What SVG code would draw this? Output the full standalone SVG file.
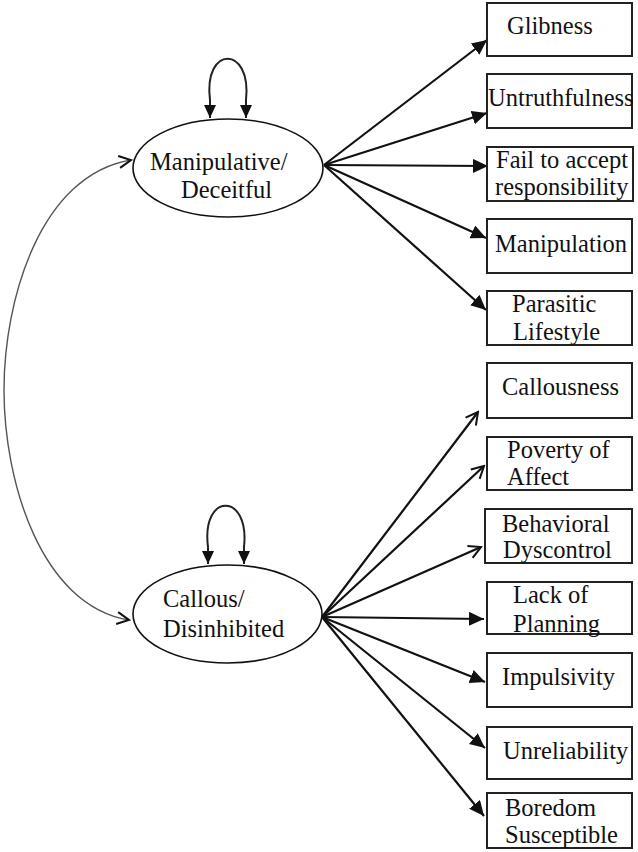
<svg xmlns="http://www.w3.org/2000/svg" width="638" height="852" viewBox="0 0 638 852">
<style>
.t{font-family:"Liberation Serif","Times New Roman",serif;font-size:24.5px;fill:#111}
.box{fill:#fff;stroke:#222;stroke-width:2}
.ell{fill:#fff;stroke:#111;stroke-width:1.6}
.arr{stroke:#111;stroke-width:2.2;fill:none}
.loop{stroke:#222;stroke-width:2;fill:none}
.cov{stroke:#555;stroke-width:1.4;fill:none}
</style>
<defs>
<marker id="fh" markerUnits="userSpaceOnUse" markerWidth="16" markerHeight="14" viewBox="0 0 16 14" refX="15" refY="7" orient="auto">
<path d="M0,0 L15,7 L0,14 Z" fill="#111"/>
</marker>
<marker id="oh" markerUnits="userSpaceOnUse" markerWidth="16" markerHeight="16" viewBox="0 0 16 16" refX="14" refY="8" orient="auto">
<path d="M2,1.5 L14,8 L2,14.5" fill="none" stroke="#111" stroke-width="2"/>
</marker>
<marker id="oc" markerUnits="userSpaceOnUse" markerWidth="16" markerHeight="16" viewBox="0 0 16 16" refX="14" refY="8" orient="auto">
<path d="M2,2 L14,8 L2,14" fill="none" stroke="#111" stroke-width="2"/>
</marker>
<marker id="lh" markerUnits="userSpaceOnUse" markerWidth="14" markerHeight="14" viewBox="0 0 14 14" refX="13" refY="7" orient="auto">
<path d="M0,1 L13,7 L0,13 Z" fill="#111"/>
</marker>
</defs>

<g id="connectors">
<path class="cov" d="M4,390 C4,300 40,175 131,160" marker-end="url(#oc)"/>
<path class="cov" d="M4,390 C4,480 40,605 129,620" marker-end="url(#oc)"/>
<path class="loop" d="M210,100 C203,45 252,45 246,100" />
<line class="loop" x1="210" y1="99" x2="210" y2="118" marker-end="url(#lh)"/>
<line class="loop" x1="246" y1="99" x2="246" y2="118" marker-end="url(#lh)"/>
<path class="loop" d="M208,547 C201,492 250,492 244,547" />
<line class="loop" x1="208" y1="546" x2="208" y2="564" marker-end="url(#lh)"/>
<line class="loop" x1="244" y1="546" x2="244" y2="564" marker-end="url(#lh)"/>

<line class="arr" x1="324" y1="165" x2="487" y2="40" marker-end="url(#fh)"/>
<line class="arr" x1="324" y1="165" x2="487" y2="113" marker-end="url(#fh)"/>
<line class="arr" x1="324" y1="165" x2="488" y2="166" marker-end="url(#fh)"/>
<line class="arr" x1="324" y1="165" x2="486" y2="238" marker-end="url(#fh)"/>
<line class="arr" x1="324" y1="165" x2="486" y2="310" marker-end="url(#fh)"/>

<line class="arr" x1="322" y1="617" x2="478" y2="412" marker-end="url(#oh)"/>
<line class="arr" x1="322" y1="617" x2="484" y2="466" marker-end="url(#oh)"/>
<line class="arr" x1="322" y1="617" x2="481" y2="547" marker-end="url(#oh)"/>
<line class="arr" x1="322" y1="617" x2="484" y2="619" marker-end="url(#fh)"/>
<line class="arr" x1="322" y1="617" x2="485" y2="682" marker-end="url(#fh)"/>
<line class="arr" x1="322" y1="617" x2="485" y2="748" marker-end="url(#fh)"/>
<line class="arr" x1="322" y1="617" x2="484" y2="816" marker-end="url(#fh)"/>
</g>

<g id="manipulative">
<ellipse class="ell" cx="228" cy="168" rx="95" ry="49"/>
<text class="t" x="150" y="170">Manipulative/</text>
<text class="t" x="181" y="198">Deceitful</text>
</g>
<g id="callous">
<ellipse class="ell" cx="227.5" cy="614" rx="94.5" ry="49"/>
<text class="t" x="163" y="607">Callous/</text>
<text class="t" x="163" y="637">Disinhibited</text>
</g>

<g id="glibness"><rect class="box" x="487" y="3" width="145" height="53"/><text class="t" x="507" y="34">Glibness</text></g>
<g id="untruthfulness"><rect class="box" x="487" y="74" width="145" height="54"/><text class="t" x="488" y="106">Untruthfulness</text></g>
<g id="fail"><rect class="box" x="487" y="147" width="146" height="54"/><text class="t" x="496" y="168">Fail to accept</text><text class="t" x="495" y="195">responsibility</text></g>
<g id="manipulation"><rect class="box" x="487" y="219" width="145" height="54"/><text class="t" x="495" y="252">Manipulation</text></g>
<g id="parasitic"><rect class="box" x="487" y="291" width="145" height="54"/><text class="t" x="512" y="312">Parasitic</text><text class="t" x="513" y="340">Lifestyle</text></g>

<g id="callousness"><rect class="box" x="487" y="363" width="145" height="55"/><text class="t" x="502" y="395">Callousness</text></g>
<g id="poverty"><rect class="box" x="487" y="437" width="145" height="53"/><text class="t" x="507" y="458">Poverty of</text><text class="t" x="507" y="485">Affect</text></g>
<g id="behavioral"><rect class="box" x="485" y="509" width="147" height="54"/><text class="t" x="502" y="532">Behavioral</text><text class="t" x="503" y="558">Dyscontrol</text></g>
<g id="lackofplanning"><rect class="box" x="487" y="582" width="145" height="52"/><text class="t" x="513" y="603">Lack of</text><text class="t" x="513" y="632">Planning</text></g>
<g id="impulsivity"><rect class="box" x="487" y="653" width="145" height="54"/><text class="t" x="502" y="685">Impulsivity</text></g>
<g id="unreliability"><rect class="box" x="487" y="727" width="145" height="52"/><text class="t" x="503" y="759">Unreliability</text></g>
<g id="boredom"><rect class="box" x="487" y="793" width="145" height="55"/><text class="t" x="505" y="816">Boredom</text><text class="t" x="505" y="843">Susceptible</text></g>
</svg>
